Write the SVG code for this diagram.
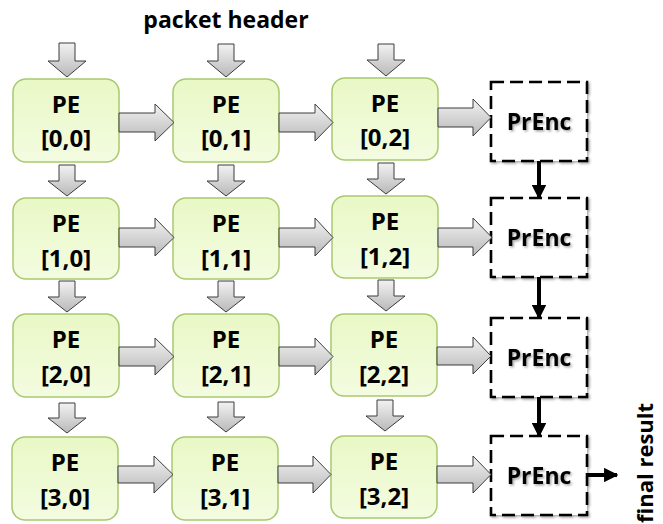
<svg xmlns="http://www.w3.org/2000/svg" width="663" height="524" viewBox="0 0 663 524">
  <defs>
    <linearGradient id="peFill" x1="0" y1="0" x2="0" y2="1">
      <stop offset="0" stop-color="#e9f8c6"/>
      <stop offset="1" stop-color="#f3fce0"/>
    </linearGradient>
    <linearGradient id="arrowFill" x1="0" y1="0" x2="0" y2="1">
      <stop offset="0" stop-color="#f2f2f2"/>
      <stop offset="1" stop-color="#b9b9b9"/>
    </linearGradient>
    <filter id="soft" x="-20%" y="-20%" width="140%" height="140%">
      <feDropShadow dx="1.5" dy="1.5" stdDeviation="1.2" flood-color="#000" flood-opacity="0.35"/>
    </filter>
    <marker id="head" viewBox="0 0 10 10" refX="9" refY="5" markerWidth="3.6" markerHeight="3.6" orient="auto" markerUnits="strokeWidth">
      <path d="M0,0 L10,5 L0,10 z" fill="#000"/>
    </marker>
  </defs>
  <style>
    .pe rect { fill: url(#peFill); stroke: #a8c96e; stroke-width: 1.5; }
    .lbl { font-family: "Open Sans", "Liberation Sans", sans-serif; font-weight: bold; font-size: 22px; fill: #000; text-anchor: middle; }
    .pe .lbl { font-size: 24px; }
    .enc .lbl { font-size: 23px; }
    .enc rect { fill: #fff; stroke: #000; stroke-width: 2.6; stroke-dasharray: 13 6; filter: url(#soft); }
    .enc text { filter: url(#soft); }
    .blk { fill: url(#arrowFill); stroke: #3c3c3c; stroke-width: 1; }
    .link { stroke: #000; stroke-width: 4; fill: none; marker-end: url(#head); }
  </style>

  <text class="lbl" x="226" y="28" style="font-size:23px">packet header</text>

  <!-- processing elements -->
  <g id="pe00" class="pe"><rect x="13" y="79" width="106" height="83" rx="13"/><text class="lbl" x="66" y="113">PE</text><text class="lbl" x="66" y="147">[0,0]</text></g>
  <g id="pe01" class="pe"><rect x="173" y="79" width="106" height="83" rx="13"/><text class="lbl" x="226" y="113">PE</text><text class="lbl" x="226" y="147">[0,1]</text></g>
  <g id="pe02" class="pe"><rect x="332" y="78" width="106" height="82" rx="13"/><text class="lbl" x="385" y="112">PE</text><text class="lbl" x="385" y="146">[0,2]</text></g>

  <g id="pe10" class="pe"><rect x="13" y="198" width="106" height="81" rx="13"/><text class="lbl" x="66" y="232">PE</text><text class="lbl" x="66" y="267">[1,0]</text></g>
  <g id="pe11" class="pe"><rect x="173" y="198" width="106" height="81" rx="13"/><text class="lbl" x="226" y="232">PE</text><text class="lbl" x="226" y="267">[1,1]</text></g>
  <g id="pe12" class="pe"><rect x="332" y="196" width="106" height="82" rx="13"/><text class="lbl" x="385" y="230">PE</text><text class="lbl" x="385" y="265">[1,2]</text></g>

  <g id="pe20" class="pe"><rect x="13" y="314" width="106" height="83" rx="13"/><text class="lbl" x="66" y="348">PE</text><text class="lbl" x="66" y="383">[2,0]</text></g>
  <g id="pe21" class="pe"><rect x="173" y="314" width="106" height="83" rx="13"/><text class="lbl" x="226" y="348">PE</text><text class="lbl" x="226" y="383">[2,1]</text></g>
  <g id="pe22" class="pe"><rect x="331" y="314" width="106" height="82" rx="13"/><text class="lbl" x="384" y="348">PE</text><text class="lbl" x="384" y="383">[2,2]</text></g>

  <g id="pe30" class="pe"><rect x="12" y="437" width="106" height="83" rx="13"/><text class="lbl" x="65" y="471">PE</text><text class="lbl" x="65" y="506">[3,0]</text></g>
  <g id="pe31" class="pe"><rect x="172" y="437" width="106" height="83" rx="13"/><text class="lbl" x="225" y="471">PE</text><text class="lbl" x="225" y="506">[3,1]</text></g>
  <g id="pe32" class="pe"><rect x="331" y="436" width="106" height="82" rx="13"/><text class="lbl" x="384" y="470">PE</text><text class="lbl" x="384" y="505">[3,2]</text></g>

  <!-- priority encoders -->
  <g id="enc0" class="enc"><rect x="491" y="82" width="96" height="79"/><text class="lbl" x="539" y="130">PrEnc</text></g>
  <g id="enc1" class="enc"><rect x="491" y="198" width="96" height="79"/><text class="lbl" x="539" y="246">PrEnc</text></g>
  <g id="enc2" class="enc"><rect x="491" y="318" width="96" height="79"/><text class="lbl" x="539" y="366">PrEnc</text></g>
  <g id="enc3" class="enc"><rect x="491" y="436" width="96" height="79"/><text class="lbl" x="539" y="484">PrEnc</text></g>

  <text class="lbl" transform="translate(653,523) rotate(-90)" style="text-anchor:start">final result</text>

  <!-- connectors -->
  <g id="connectors">
    <!-- header inputs -->
    <polygon class="blk" points="59,43 75,43 75,61 86,61 67,77 48,61 59,61"/>
    <polygon class="blk" points="218,44 234,44 234,61 245,61 226,77 207,61 218,61"/>
    <polygon class="blk" points="378,44 394,44 394,60 405,60 386,76 367,60 378,60"/>
    <!-- row 0 to row 1 -->
    <polygon class="blk" points="59,165 75,165 75,181 86,181 67,196 48,181 59,181"/>
    <polygon class="blk" points="218,165 234,165 234,181 245,181 226,196 207,181 218,181"/>
    <polygon class="blk" points="378,163 394,163 394,179 405,179 386,194 367,179 378,179"/>
    <!-- row 1 to row 2 -->
    <polygon class="blk" points="59,281 75,281 75,297 86,297 67,312 48,297 59,297"/>
    <polygon class="blk" points="218,281 234,281 234,297 245,297 226,312 207,297 218,297"/>
    <polygon class="blk" points="378,280 394,280 394,296 405,296 386,311 367,296 378,296"/>
    <!-- row 2 to row 3 -->
    <polygon class="blk" points="59,403 75,403 75,418 86,418 67,433 48,418 59,418"/>
    <polygon class="blk" points="218,402 234,402 234,417 245,417 226,432 207,417 218,417"/>
    <polygon class="blk" points="377,400 393,400 393,416 404,416 385,431 366,416 377,416"/>

    <!-- horizontal links, row 0 -->
    <polygon class="blk" points="119,113 155,113 155,104 174,122.5 155,141 155,132 119,132"/>
    <polygon class="blk" points="279,113 315,113 315,104 333,122.5 315,141 315,132 279,132"/>
    <polygon class="blk" points="438,108 473,108 473,99 491,117.5 473,136 473,127 438,127"/>
    <!-- row 1 -->
    <polygon class="blk" points="119,228 155,228 155,218 174,237.5 155,256 155,247 119,247"/>
    <polygon class="blk" points="279,228 315,228 315,218 333,237.5 315,256 315,247 279,247"/>
    <polygon class="blk" points="438,228 473,228 473,218 492,237.5 473,256 473,247 438,247"/>
    <!-- row 2 -->
    <polygon class="blk" points="119,347 155,347 155,338 174,356.5 155,375 155,366 119,366"/>
    <polygon class="blk" points="279,347 315,347 315,338 333,356.5 315,375 315,366 279,366"/>
    <polygon class="blk" points="437,347 473,347 473,337 491,356 473,374 473,365 437,365"/>
    <!-- row 3 -->
    <polygon class="blk" points="118,466 154,466 154,456 173,474.5 154,493 154,483 118,483"/>
    <polygon class="blk" points="278,466 313,466 313,456 331,474.5 313,493 313,483 278,483"/>
    <polygon class="blk" points="437,466 473,466 473,456 491,474.5 473,493 473,483 437,483"/>

    <!-- encoder chain -->
    <line class="link" x1="539" y1="161" x2="539" y2="198"/>
    <line class="link" x1="539" y1="277" x2="539" y2="318"/>
    <line class="link" x1="539" y1="397" x2="539" y2="436"/>
    <line class="link" x1="587" y1="475" x2="617" y2="475"/>
  </g>
</svg>
